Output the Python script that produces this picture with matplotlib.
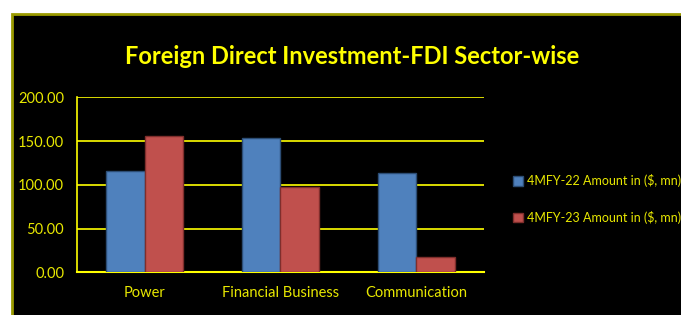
import matplotlib.pyplot as plt
import numpy as np
from matplotlib.patches import Rectangle

categories = ["Power", "Financial Business", "Communication"]
fy22 = [116.0, 153.0, 113.5]
fy23 = [155.8, 97.0, 17.0]
series_names = ["4MFY-22 Amount in ($, mn)", "4MFY-23 Amount in ($, mn)"]
y_ticks = [0, 50, 100, 150, 200]

W, H = 681, 315
fig = plt.figure(figsize=(W / 100, H / 100), dpi=100)
fig.patch.set_facecolor("white")

# black panel with olive border (runs off the right and bottom edges)
fig.patches.append(
    Rectangle((11.5 / W, -0.05), 1.1, 1.05 - 13.5 / H, transform=fig.transFigure,
              facecolor="black", edgecolor="#9a9a00", linewidth=2, zorder=-5)
)

font = ["Lato", "DejaVu Sans"]
yellow = "#ffff00"
tick_yellow = "#e8e800"

ax = fig.add_axes([76.7 / W, 1 - 272.3 / H, (484 - 76.7) / W, (272.3 - 97.3) / H])
ax.set_facecolor("black")

x = np.arange(len(categories))
bw = 0.283
ax.bar(x - bw / 2, fy22, bw, color="#4f81bd", edgecolor="#2c4d75", linewidth=1, zorder=3,
       label=series_names[0])
ax.bar(x + bw / 2, fy23, bw, color="#c0504d", edgecolor="#7f2e2c", linewidth=1, zorder=3,
       label=series_names[1])

ax.set_xlim(-0.5, 2.5)
ax.set_ylim(0, 200)
ax.set_yticks(y_ticks)
ax.set_yticklabels([f"{v:.2f}" for v in y_ticks], color=tick_yellow, fontsize=10.5, family=font)
ax.set_xticks(x)
ax.set_xticklabels(categories, color=tick_yellow, fontsize=10.5, family=font)
ax.tick_params(length=0, pad=9)
ax.tick_params(axis="x", pad=10)
ax.yaxis.grid(True, color=yellow, linewidth=1.2, zorder=1)
for s in ["top", "right"]:
    ax.spines[s].set_visible(False)
ax.spines["left"].set_color(yellow)
ax.spines["bottom"].set_color(yellow)
ax.spines["left"].set_linewidth(1.2)
ax.spines["bottom"].set_linewidth(1.5)

fig.text(352 / W, 1 - 56 / H, "Foreign Direct Investment-FDI Sector-wise", color=yellow,
         fontsize=17, fontweight="bold", family=font, ha="center", va="center")

leg = ax.legend(loc="center left", bbox_to_anchor=(502 / W, 1 - 199 / H),
                bbox_transform=fig.transFigure, frameon=False,
                handlelength=0.8, handleheight=0.8, handletextpad=0.3, labelspacing=1.9,
                prop={"family": font, "size": 9.0})
for t in leg.get_texts():
    t.set_color(tick_yellow)

fig.savefig("out.png", dpi=100, facecolor=fig.get_facecolor())
